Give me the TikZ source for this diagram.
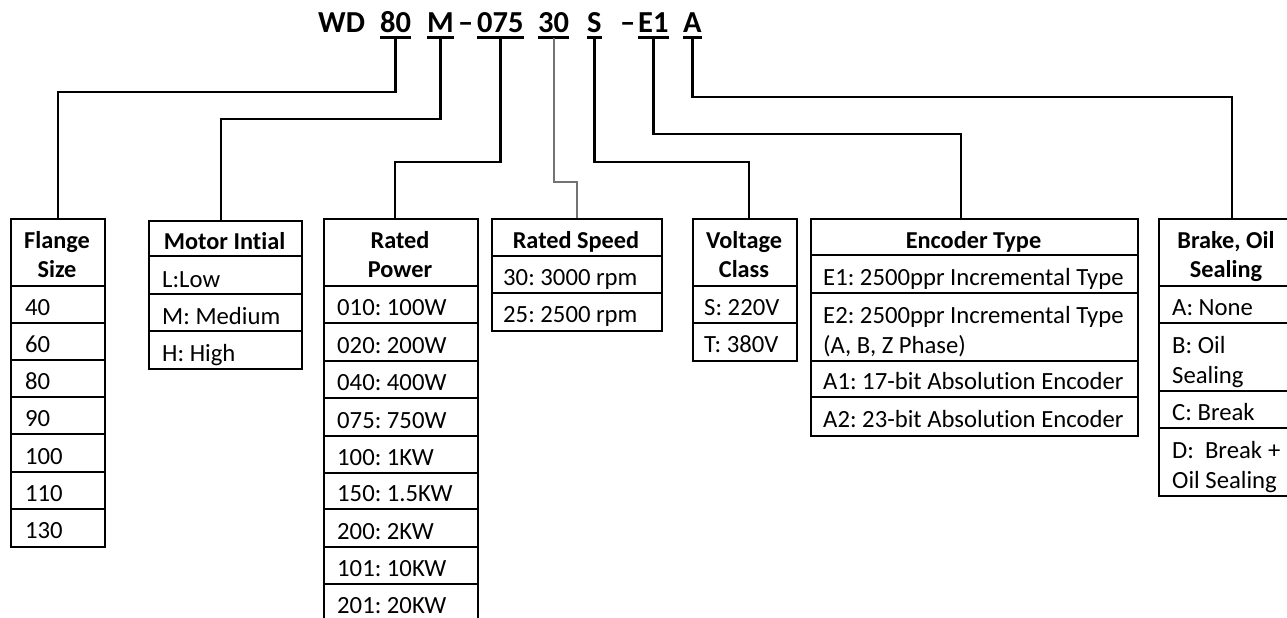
\documentclass[tikz,border=0pt]{standalone}
\usepackage{fontspec}
\setmainfont{Carlito}[Ligatures=NoCommon]
\frenchspacing
\usetikzlibrary{calc}
\begin{document}
\begin{tikzpicture}[x=1pt,y=-1pt,
  code/.style={font=\bfseries\fontsize{30.5}{30}\selectfont, anchor=base west, inner sep=0pt},
  tbox/.style={draw=black, line width=1.7pt, anchor=north west, inner sep=0pt},
  rule/.style={draw=black, line width=1.7pt},
  hd/.style={font=\bfseries\fontsize{24.3}{29}\selectfont, anchor=base, inner sep=0pt},
  txt/.style={font=\fontsize{24.7}{29}\selectfont, anchor=base west, inner sep=0pt},
  conn/.style={draw=black, line width=2.6pt},
  thinconn/.style={draw=black!55, line width=1.8pt},
  bar/.style={draw=black, line width=3pt}
]
\useasboundingbox (0,0) rectangle (1287,618);
\clip (0,0) rectangle (1287,618);
\fill[white] (0,0) rectangle (1287,618);

% ---- code string ----
\node[code] (tWD) at (318,33) {WD};
\node[code] (t80) at (380,33) {80};
\node[code] (tM) at (427,33) {M};
\node[code] (td1) at (458,33) {–};
\node[code] (t075) at (477,33) {075};
\node[code] (t30) at (538,33) {30};
\node[code] (tS) at (587,33) {S};
\node[code] (td2) at (620,33) {–};
\node[code] (tE1) at (638,33) {E1};
\node[code] (tA) at (683,33) {A};

\foreach \t in {t80,tM,t075,t30,tS,tE1,tA}
  \draw[bar] ([yshift=-5pt]\t.base west) -- ([yshift=-5pt]\t.base east);

% ---- boxes ----
\node[tbox, minimum width=94pt,  minimum height=328pt] (flange) at (10,218) {};
\node[tbox, minimum width=153pt, minimum height=148pt] (motor)  at (148,220) {};
\node[tbox, minimum width=154pt, minimum height=403pt] (power)  at (323,218) {};
\node[tbox, minimum width=170pt, minimum height=112pt] (speed)  at (491,218) {};
\node[tbox, minimum width=104pt, minimum height=142pt] (volt)   at (692,218) {};
\node[tbox, minimum width=327pt, minimum height=217pt] (enc)    at (810,218) {};
\node[tbox, minimum width=132pt, minimum height=277pt] (brake)  at (1158,218) {};

\foreach \y in {286,323,360,397,434,472,509}
  \draw[rule] (flange.west |- 0,\y) -- (flange.east |- 0,\y);
\foreach \y in {256,294,331}
  \draw[rule] (motor.west |- 0,\y) -- (motor.east |- 0,\y);
\foreach \y in {286,323,361,398,436,473,509,547,584}
  \draw[rule] (power.west |- 0,\y) -- (power.east |- 0,\y);
\foreach \y in {256,293}
  \draw[rule] (speed.west |- 0,\y) -- (speed.east |- 0,\y);
\foreach \y in {286,323}
  \draw[rule] (volt.west |- 0,\y) -- (volt.east |- 0,\y);
\foreach \y in {255,293,361,397}
  \draw[rule] (enc.west |- 0,\y) -- (enc.east |- 0,\y);
\foreach \y in {286,323,391,428}
  \draw[rule] (brake.west |- 0,\y) -- (brake.east |- 0,\y);

% ---- connectors ----
\coordinate (h80) at (0,92);
\coordinate (hM) at (0,119);
\coordinate (h075) at (0,162);
\coordinate (h30) at (0,182);
\coordinate (hS) at (0,162);
\coordinate (hE1) at (0,134);
\coordinate (hA) at (0,97);
\draw[conn] ([yshift=-5pt]t80.base) -- (t80.base |- h80) -| (flange.north);
\draw[conn] ([yshift=-5pt]tM.base) -- (tM.base |- hM) -| ($(motor.north west)+(73,0)$);
\draw[conn] ([yshift=-5pt]t075.base) -- (t075.base |- h075) -| ($(power.north west)+(72,0)$);
\draw[thinconn] ([yshift=-5pt]t30.base) -- (t30.base |- h30) -| (speed.north);
\draw[conn] ([yshift=-5pt]tS.base) -- (tS.base |- hS) -| ($(volt.north west)+(57,0)$);
\draw[conn] ([yshift=-5pt]tE1.base) -- (tE1.base |- hE1) -| ($(enc.north west)+(151,0)$);
\draw[conn] ([yshift=-5pt]tA.base) -- (tA.base |- hA) -| ($(brake.north west)+(74,0)$);

% ---- Flange Size ----
\node[hd] (fh1) at (57,248) {Flange};
\node[hd] (fh2) at (57,277) {Size};
\node[txt] (f1) at (25,315) {40};
\node[txt] (f2) at (25,352) {60};
\node[txt] (f3) at (25,389) {80};
\node[txt] (f4) at (25,426) {90};
\node[txt] (f5) at (25,464) {100};
\node[txt] (f6) at (25,501) {110};
\node[txt] (f7) at (25,538) {130};

% ---- Motor Intial ----
\node[hd] (mh1) at (224.5,249) {Motor Intial};
\node[txt] (m1) at (162,287) {L:Low};
\node[txt] (m2) at (162,324) {M: Medium};
\node[txt] (m3) at (162,361) {H: High};

% ---- Rated Power ----
\node[hd] (ph1) at (400,248) {Rated};
\node[hd] (ph2) at (400,277) {Power};
\node[txt] (p1) at (337,315) {010: 100W};
\node[txt] (p2) at (337,353) {020: 200W};
\node[txt] (p3) at (337,390) {040: 400W};
\node[txt] (p4) at (337,428) {075: 750W};
\node[txt] (p5) at (337,465) {100: 1KW};
\node[txt] (p6) at (337,501) {150: 1.5KW};
\node[txt] (p7) at (337,539) {200: 2KW};
\node[txt] (p8) at (337,576) {101: 10KW};
\node[txt] (p9) at (337,613) {201: 20KW};

% ---- Rated Speed ----
\node[hd] (sh1) at (576,248) {Rated Speed};
\node[txt] (s1) at (503,285) {30: 3000 rpm};
\node[txt] (s2) at (503,322) {25: 2500 rpm};

% ---- Voltage Class ----
\node[hd] (vh1) at (744,248) {Voltage};
\node[hd] (vh2) at (744,277) {Class};
\node[txt] (v1) at (704,315) {S: 220V};
\node[txt] (v2) at (704,352) {T: 380V};

% ---- Encoder Type ----
\node[hd] (eh1) at (973.5,248) {Encoder Type};
\node[txt] (e1) at (823,285) {E1: 2500ppr Incremental Type};
\node[txt] (e2a) at (823,323) {E2: 2500ppr Incremental Type};
\node[txt] (e2b) at (823,353) {(A, B, Z Phase)};
\node[txt] (e3) at (823,389) {A1: 17-bit Absolution Encoder};
\node[txt] (e4) at (823,427) {A2: 23-bit Absolution Encoder};

% ---- Brake, Oil Sealing ----
\node[hd] (bh1) at (1226,248) {Brake, Oil};
\node[hd] (bh2) at (1226,277) {Sealing};
\node[txt] (b1) at (1172,315) {A: None};
\node[txt] (b2a) at (1172,353) {B: Oil};
\node[txt] (b2b) at (1172,383) {Sealing};
\node[txt] (b3) at (1172,420) {C: Break};
\node[txt] (b4a) at (1172,458) {D:\hspace{11pt}Break\hspace{6pt}+};
\node[txt] (b4b) at (1172,488) {Oil Sealing};
\end{tikzpicture}
\end{document}
